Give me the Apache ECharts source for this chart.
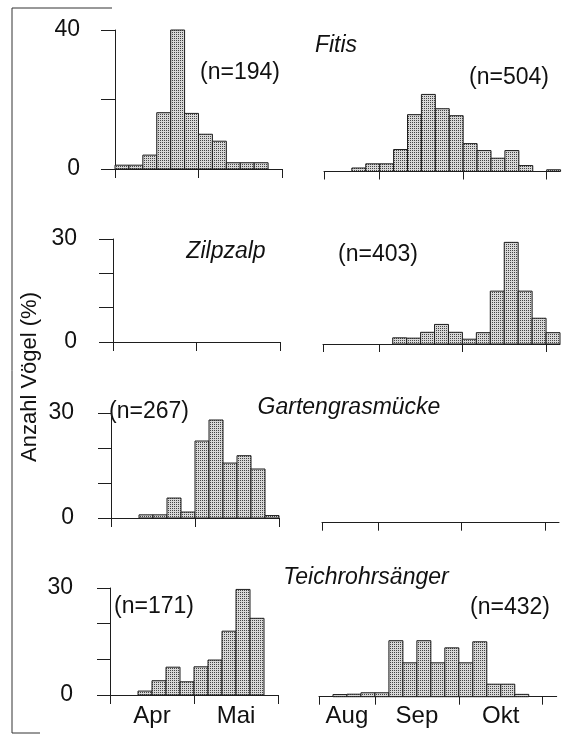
<!DOCTYPE html>
<html><head><meta charset="utf-8">
<script src="https://cdn.jsdelivr.net/npm/echarts@6/dist/echarts.min.js"></script>
<style>html,body{margin:0;padding:0;background:#fff}#c{width:569px;height:736px}</style>
</head><body><div id="c"></div>
<script>
// ---- data (percent of birds per 5-day period) ----
const species = ['Fitis', 'Zilpzalp', 'Gartengrasmücke', 'Teichrohrsänger'];
const nSpring = ['(n=194)', '', '(n=267)', '(n=171)'];
const nAutumn = ['(n=504)', '(n=403)', '', '(n=432)'];
const yMaxima = [40, 30, 30, 30];
const springMonths = ['Apr', 'Mai'];
const autumnMonths = ['Aug', 'Sep', 'Okt'];
const yAxisTitle = 'Anzahl Vögel (%)';

// spring: Apr 1-5 ... Mai 26-31 (12 pentads)
const fitisSpring   = [1.1, 1.1, 4, 16.2, 40, 16, 10, 8, 1.8, 1.8, 1.8, 0];
const zilpSpring    = [0, 0, 0, 0, 0, 0, 0, 0, 0, 0, 0, 0];
const gartenSpring  = [0, 0, 0.9, 0.9, 5.7, 1.7, 22, 28, 15.7, 17.8, 14, 0.7];
const teichSpring   = [0, 0, 1.1, 4, 7.8, 3.7, 7.9, 9.8, 17.9, 29.6, 21.5, 0];
// autumn: Aug 12-16 ... Nov 1-5 (17 pentads)
const fitisAutumn   = [0, 0, 1, 2.2, 2.2, 6.3, 16.3, 22.1, 18, 16, 8, 6, 3.8, 6, 1.7, 0, 0.5];
const zilpAutumn    = [0, 0, 0, 0, 0, 1.8, 1.7, 3.4, 5.7, 3.4, 1.4, 3.3, 15.4, 29.6, 15.4, 7.5, 3.3];
const gartenAutumn  = [0, 0, 0, 0, 0, 0, 0, 0, 0, 0, 0, 0, 0, 0, 0, 0, 0];
const teichAutumn   = [0, 0.6, 0.7, 1.1, 1.1, 15.7, 9.5, 15.7, 9.5, 13.7, 9.5, 15.4, 3.5, 3.5, 0.65, 0, 0];

const springData = [fitisSpring, zilpSpring, gartenSpring, teichSpring];
const autumnData = [fitisAutumn, zilpAutumn, gartenAutumn, teichAutumn];

// ---- layout ----
const L = [
  {sp:{left:115,top:30,width:167,height:139}, yOff:13, yMargin:22, tick:14, au:{left:324,top:32,width:233.8,height:139.5}, auMax:16.8},
  {sp:{left:113,top:239,width:167,height:103}, yOff:13, yMargin:23, tick:14, au:{left:323,top:241,width:237,height:103}, auMax:17},
  {sp:{left:111,top:413,width:168,height:105}, yOff:10, yMargin:27, tick:13, au:{left:322,top:417.7,width:237,height:105}, auMax:17},
  {sp:{left:110,top:588,width:168,height:107}, yOff:16, yMargin:21, tick:13, au:{left:319,top:589.7,width:237.7,height:107}, auMax:17}
];
const titlePos = [[336,46],[226,252],[349,408],[366,578]];
const nSpPos = [[240,73],null,[149,412],[154,607]];
const nAuPos = [[509,78],[378,255],null,[510,608]];

const INK = '#1e1e1e';
const FONT = '"Liberation Sans", Arial, Helvetica, sans-serif';

const pc = document.createElement('canvas'); pc.width = 2; pc.height = 2;
const pctx = pc.getContext('2d');
pctx.fillStyle = '#d8d8d8'; pctx.fillRect(0,0,2,2);
pctx.fillStyle = '#444444'; pctx.fillRect(0,0,1,1);
const pattern = {image: pc, repeat: 'repeat'};

function renderBar(params, api){
  const i = api.value(0), v = api.value(1);
  const a = api.coord([i, 0]), b = api.coord([i + 1, v]);
  return {type:'rect', shape:{x:a[0], y:b[1], width:b[0]-a[0], height:a[1]-b[1]},
    style:{fill:pattern, stroke:INK, lineWidth:1}};
}

const grid = [], xAxis = [], yAxis = [], series = [], graphic = [];
for (let r = 0; r < 4; r++) {
  const lay = L[r];
  grid.push(Object.assign({outerBoundsMode:'none', containLabel:false}, lay.sp));
  grid.push(Object.assign({outerBoundsMode:'none', containLabel:false}, lay.au));
  const showMonths = r === 3;
  xAxis.push({type:'value', gridIndex:2*r, min:0, max:12,
    axisLine:{show:true, lineStyle:{color:INK, width:1}},
    axisTick:{show:true, customValues:[0,6,12], length:9, lineStyle:{color:INK, width:1}},
    axisLabel:{show:showMonths, customValues:[3,9], formatter:v => springMonths[v===3?0:1],
      fontSize:24, color:'#111', fontFamily:FONT, margin:9},
    splitLine:{show:false}});
  xAxis.push({type:'value', gridIndex:2*r+1, min:0, max:lay.auMax,
    axisLine:{show:true, lineStyle:{color:INK, width:1}},
    axisTick:{show:true, customValues:[0,4,10,16], length:8, lineStyle:{color:INK, width:1}},
    axisLabel:{show:showMonths, customValues:[2,7,13], formatter:v => autumnMonths[v===2?0:(v===7?1:2)],
      fontSize:24, color:'#111', fontFamily:FONT, margin:8},
    splitLine:{show:false}});
  const ym = yMaxima[r];
  yAxis.push({type:'value', gridIndex:2*r, min:0, max:ym, interval: ym===40?20:10, offset:lay.yOff,
    axisLine:{show:true, lineStyle:{color:INK, width:1}},
    axisTick:{show:true, length:lay.tick, lineStyle:{color:INK, width:1}},
    axisLabel:{customValues:[0, ym], margin:lay.yMargin, fontSize:23, color:'#111', fontFamily:FONT},
    splitLine:{show:false}});
  yAxis.push({type:'value', gridIndex:2*r+1, min:0, max:ym, show:false, splitLine:{show:false}});
  series.push({type:'custom', xAxisIndex:2*r, yAxisIndex:2*r, renderItem:renderBar, encode:{x:0,y:1},
    data: springData[r].map((v,i)=>[i,v]).filter(d=>d[1]>0)});
  series.push({type:'custom', xAxisIndex:2*r+1, yAxisIndex:2*r+1, renderItem:renderBar, encode:{x:0,y:1},
    data: autumnData[r].map((v,i)=>[i,v]).filter(d=>d[1]>0)});

  graphic.push({type:'text', x:titlePos[r][0], y:titlePos[r][1],
    style:{text:species[r], fontSize:23, fontStyle:'italic', fontFamily:FONT, fill:'#111', textAlign:'center', textVerticalAlign:'middle'}});
  if (nSpPos[r]) graphic.push({type:'text', x:nSpPos[r][0], y:nSpPos[r][1],
    style:{text:nSpring[r], fontSize:23, fontFamily:FONT, fill:'#111', textAlign:'center', textVerticalAlign:'middle'}});
  if (nAuPos[r]) graphic.push({type:'text', x:nAuPos[r][0], y:nAuPos[r][1],
    style:{text:nAutumn[r], fontSize:23, fontFamily:FONT, fill:'#111', textAlign:'center', textVerticalAlign:'middle'}});
}
graphic.push({type:'text', x:30, y:377, rotation:Math.PI/2,
  style:{text:yAxisTitle, fontSize:22, fontFamily:FONT, fill:'#111', textAlign:'center', textVerticalAlign:'middle'}});
graphic.push({type:'polyline', shape:{points:[[112,8],[12,8],[12,733],[40,733]]},
  style:{stroke:'#333', lineWidth:1, fill:null}});

const chart = echarts.init(document.getElementById('c'));
chart.setOption({animation:false, backgroundColor:'#fff', grid, xAxis, yAxis, series, graphic});
</script></body></html>
